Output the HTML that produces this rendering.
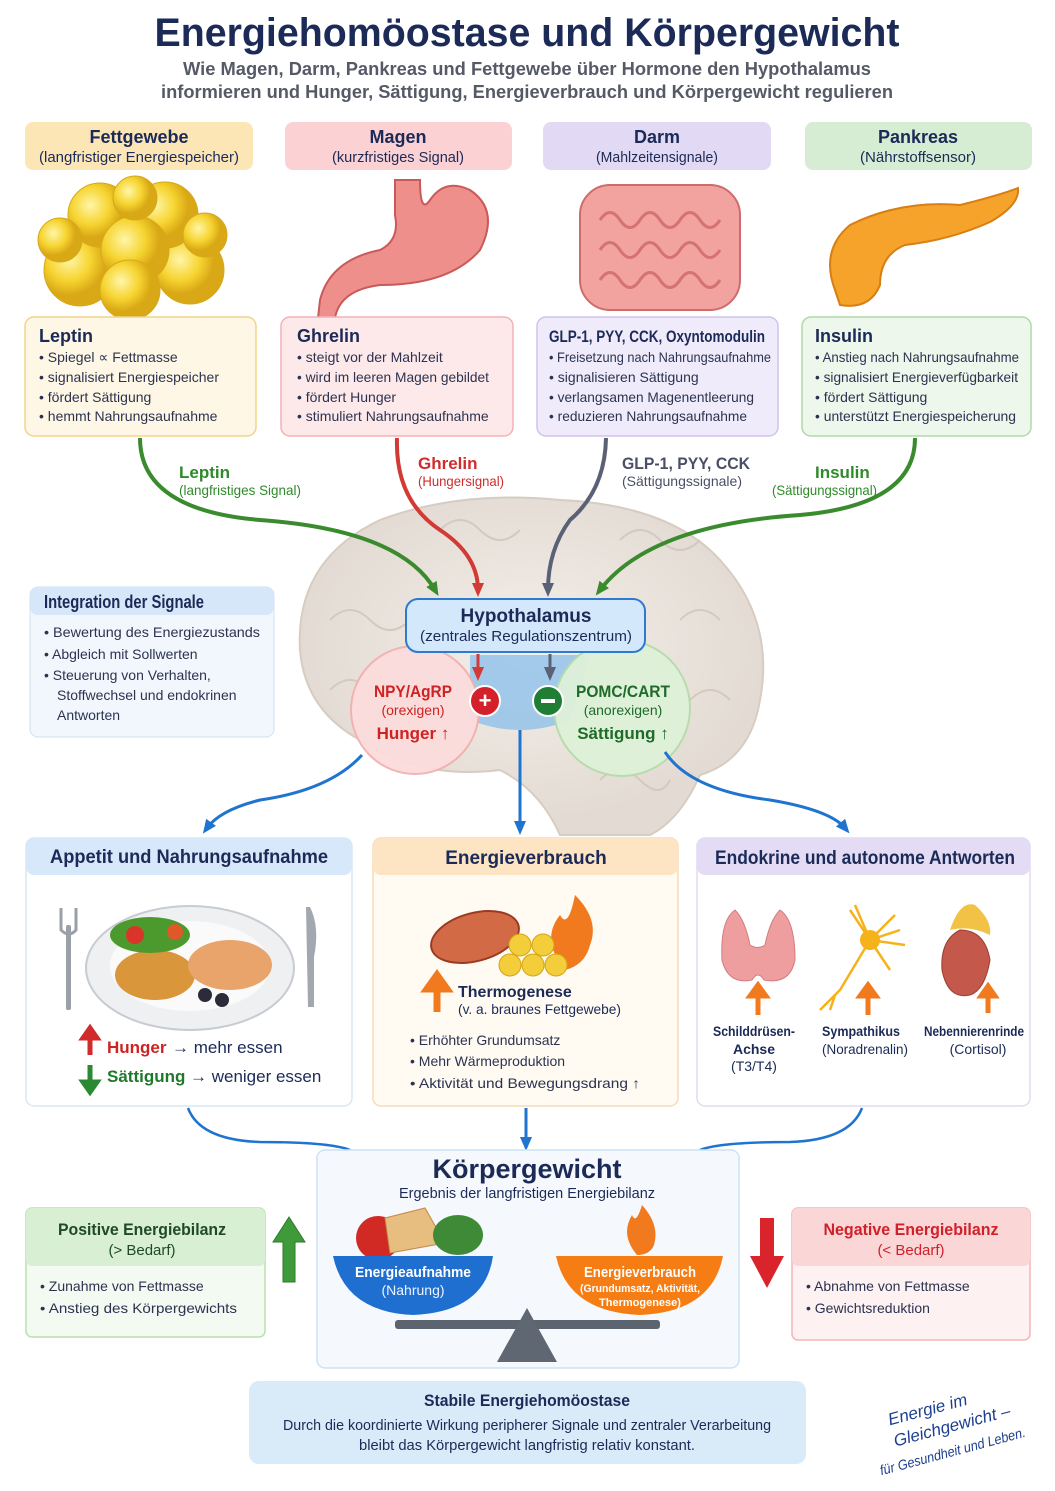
<!DOCTYPE html>
<html><head><meta charset="utf-8"><style>
html,body{margin:0;padding:0;background:#fff;}
svg{display:block;}
text{font-family:"Liberation Sans","DejaVu Sans",sans-serif;}
.b{font-weight:bold;}
.nv{fill:#1b2a57;}
.tx{fill:#2b3350;font-size:14px;}
</style></head><body>
<svg width="1055" height="1491" viewBox="0 0 1055 1491" xmlns="http://www.w3.org/2000/svg">
<defs>
<marker id="ag" markerWidth="14" markerHeight="14" refX="7" refY="7" orient="auto" markerUnits="userSpaceOnUse" viewBox="0 0 14 14"><path d="M0,1 L14,7 L0,13z" fill="#3a8a2e"/></marker>
<marker id="ar" markerWidth="14" markerHeight="14" refX="7" refY="7" orient="auto" markerUnits="userSpaceOnUse" viewBox="0 0 14 14"><path d="M0,1 L14,7 L0,13z" fill="#d23a36"/></marker>
<marker id="agr" markerWidth="14" markerHeight="14" refX="7" refY="7" orient="auto" markerUnits="userSpaceOnUse" viewBox="0 0 14 14"><path d="M0,1 L14,7 L0,13z" fill="#5a6075"/></marker>
<marker id="ab" markerWidth="14" markerHeight="14" refX="7" refY="7" orient="auto" markerUnits="userSpaceOnUse" viewBox="0 0 14 14"><path d="M0,1 L14,7 L0,13z" fill="#1f74d0"/></marker>
<radialGradient id="fat" cx="0.35" cy="0.35"><stop offset="0" stop-color="#fff6a8"/><stop offset="0.6" stop-color="#f6d430"/><stop offset="1" stop-color="#d9a816"/></radialGradient>
<radialGradient id="brain" cx="0.5" cy="0.45"><stop offset="0" stop-color="#f4efea"/><stop offset="1" stop-color="#e3dbd3"/></radialGradient>
</defs>

<text x="527" y="46" text-anchor="middle" class="b nv" font-size="40" textLength="745" lengthAdjust="spacingAndGlyphs">Energiehomöostase und Körpergewicht</text>
<text x="527" y="75" text-anchor="middle" class="b" fill="#555a66" font-size="18" textLength="688" lengthAdjust="spacingAndGlyphs">Wie Magen, Darm, Pankreas und Fettgewebe über Hormone den Hypothalamus</text>
<text x="527" y="98" text-anchor="middle" class="b" fill="#555a66" font-size="18" textLength="732" lengthAdjust="spacingAndGlyphs">informieren und Hunger, Sättigung, Energieverbrauch und Körpergewicht regulieren</text>

<rect x="25" y="122" width="228" height="48" rx="8" fill="#fde6b6"/>
<text x="139" y="143" text-anchor="middle" class="b nv" font-size="18">Fettgewebe</text>
<text x="139" y="162" text-anchor="middle" class="nv" font-size="15" textLength="200" lengthAdjust="spacingAndGlyphs">(langfristiger Energiespeicher)</text>
<rect x="285" y="122" width="227" height="48" rx="8" fill="#fbd1d4"/>
<text x="398" y="143" text-anchor="middle" class="b nv" font-size="18">Magen</text>
<text x="398" y="162" text-anchor="middle" class="nv" font-size="15" textLength="132" lengthAdjust="spacingAndGlyphs">(kurzfristiges Signal)</text>
<rect x="543" y="122" width="228" height="48" rx="8" fill="#e2d9f4"/>
<text x="657" y="143" text-anchor="middle" class="b nv" font-size="18">Darm</text>
<text x="657" y="162" text-anchor="middle" class="nv" font-size="15" textLength="122" lengthAdjust="spacingAndGlyphs">(Mahlzeitensignale)</text>
<rect x="805" y="122" width="227" height="48" rx="8" fill="#d6edd3"/>
<text x="918" y="143" text-anchor="middle" class="b nv" font-size="18">Pankreas</text>
<text x="918" y="162" text-anchor="middle" class="nv" font-size="15" textLength="116" lengthAdjust="spacingAndGlyphs">(Nährstoffsensor)</text>

<g stroke="#d6a91a" stroke-width="1">
<circle cx="80" cy="270" r="36" fill="url(#fat)"/><circle cx="190" cy="270" r="34" fill="url(#fat)"/>
<circle cx="100" cy="215" r="32" fill="url(#fat)"/><circle cx="165" cy="215" r="33" fill="url(#fat)"/>
<circle cx="60" cy="240" r="22" fill="url(#fat)"/><circle cx="205" cy="235" r="22" fill="url(#fat)"/>
<circle cx="135" cy="250" r="34" fill="url(#fat)"/><circle cx="130" cy="290" r="30" fill="url(#fat)"/>
<circle cx="135" cy="198" r="22" fill="url(#fat)"/>
</g>
<path d="M395 180 L395 215 Q400 240 380 250 Q330 260 320 300 L318 318 L335 318 Q340 290 380 285 Q450 285 480 250 Q500 210 470 190 Q445 178 430 200 Q420 215 420 180z" fill="#ef8f8c" stroke="#c95a5a" stroke-width="2"/>
<rect x="580" y="185" width="160" height="125" rx="30" fill="#f2a3a0" stroke="#d06b6b" stroke-width="2"/>
<g fill="none" stroke="#d57272" stroke-width="3">
<path d="M600 220 q10 -15 20 0 t20 0 t20 0 t20 0 t20 0 t20 0"/>
<path d="M600 250 q10 -15 20 0 t20 0 t20 0 t20 0 t20 0 t20 0"/>
<path d="M600 280 q10 -15 20 0 t20 0 t20 0 t20 0 t20 0 t20 0"/>
</g>
<path d="M835 290 Q820 250 850 225 Q900 200 960 205 Q1000 195 1018 188 Q1020 205 990 222 Q950 240 905 245 Q880 255 880 285 Q870 310 840 305z" fill="#f5a32a" stroke="#d87e12" stroke-width="2"/>

<rect x="25" y="317" width="231" height="119" rx="9" fill="#fff7e5" stroke="#f3d38a" stroke-width="1.5"/>
<text x="39" y="342" class="b nv" font-size="18">Leptin</text>
<g class="tx"><text x="39" y="362">• Spiegel ∝ Fettmasse</text><text x="39" y="382">• signalisiert Energiespeicher</text><text x="39" y="402">• fördert Sättigung</text><text x="39" y="421">• hemmt Nahrungsaufnahme</text></g>
<rect x="281" y="317" width="232" height="119" rx="9" fill="#fde9ea" stroke="#f3b1b3" stroke-width="1.5"/>
<text x="297" y="342" class="b nv" font-size="18">Ghrelin</text>
<g class="tx"><text x="297" y="362">• steigt vor der Mahlzeit</text><text x="297" y="382" textLength="192" lengthAdjust="spacingAndGlyphs">• wird im leeren Magen gebildet</text><text x="297" y="402">• fördert Hunger</text><text x="297" y="421">• stimuliert Nahrungsaufnahme</text></g>
<rect x="537" y="317" width="241" height="119" rx="9" fill="#efebfa" stroke="#cfc3ec" stroke-width="1.5"/>
<text x="549" y="342" class="b nv" font-size="17" textLength="216" lengthAdjust="spacingAndGlyphs">GLP-1, PYY, CCK, Oxyntomodulin</text>
<g class="tx"><text x="549" y="362" textLength="222" lengthAdjust="spacingAndGlyphs">• Freisetzung nach Nahrungsaufnahme</text><text x="549" y="382">• signalisieren Sättigung</text><text x="549" y="402" textLength="205" lengthAdjust="spacingAndGlyphs">• verlangsamen Magenentleerung</text><text x="549" y="421" textLength="198" lengthAdjust="spacingAndGlyphs">• reduzieren Nahrungsaufnahme</text></g>
<rect x="802" y="317" width="229" height="119" rx="9" fill="#eef7ec" stroke="#afd9a8" stroke-width="1.5"/>
<text x="815" y="342" class="b nv" font-size="18">Insulin</text>
<g class="tx"><text x="815" y="362" textLength="204" lengthAdjust="spacingAndGlyphs">• Anstieg nach Nahrungsaufnahme</text><text x="815" y="382" textLength="203" lengthAdjust="spacingAndGlyphs">• signalisiert Energieverfügbarkeit</text><text x="815" y="402">• fördert Sättigung</text><text x="815" y="421" textLength="201" lengthAdjust="spacingAndGlyphs">• unterstützt Energiespeicherung</text></g>

<path d="M300 650 Q295 560 380 520 Q460 490 560 500 Q670 505 720 560 Q775 620 760 700 Q750 760 700 775 Q680 820 650 835 L560 835 Q540 790 500 770 Q420 780 360 740 Q305 710 300 650z" fill="url(#brain)" stroke="#d6ccc2" stroke-width="2"/>
<g fill="none" stroke="#d4c9bf" stroke-width="2">
<path d="M330 620 q20 -20 40 0 t40 0"/><path d="M620 540 q20 -20 40 0 t40 0"/><path d="M440 530 q20 -20 40 0 t40 0"/>
<path d="M680 620 q20 -20 40 0"/><path d="M330 690 q20 -20 40 0"/><path d="M690 700 q20 -20 40 0"/><path d="M600 780 q20 -20 40 0 t30 0"/>
</g>
<path d="M470 655 L590 655 L570 720 Q520 740 470 720z" fill="#8fc0ea" opacity="0.8"/>

<path d="M140 438 Q140 510 260 520 Q400 530 435 590" fill="none" stroke="#3a8a2e" stroke-width="4" marker-end="url(#ag)"/>
<path d="M397 438 Q395 500 440 530 Q478 555 478 590" fill="none" stroke="#d23a36" stroke-width="4" marker-end="url(#ar)"/>
<path d="M606 438 Q605 490 570 520 Q548 550 548 590" fill="none" stroke="#5a6075" stroke-width="4" marker-end="url(#agr)"/>
<path d="M915 438 Q915 505 800 515 Q650 525 600 590" fill="none" stroke="#3a8a2e" stroke-width="4" marker-end="url(#ag)"/>
<text x="179" y="478" class="b" fill="#2f8a2a" font-size="17">Leptin</text>
<text x="179" y="495" fill="#2f8a2a" font-size="14" textLength="122" lengthAdjust="spacingAndGlyphs">(langfristiges Signal)</text>
<text x="418" y="469" class="b" fill="#d02c2c" font-size="17">Ghrelin</text>
<text x="418" y="486" fill="#d02c2c" font-size="14" textLength="86" lengthAdjust="spacingAndGlyphs">(Hungersignal)</text>
<text x="622" y="469" class="b" fill="#4a4f66" font-size="17" textLength="128" lengthAdjust="spacingAndGlyphs">GLP-1, PYY, CCK</text>
<text x="622" y="486" fill="#4a4f66" font-size="14" textLength="120" lengthAdjust="spacingAndGlyphs">(Sättigungssignale)</text>
<text x="815" y="478" class="b" fill="#2f8a2a" font-size="17">Insulin</text>
<text x="772" y="495" fill="#2f8a2a" font-size="14" textLength="105" lengthAdjust="spacingAndGlyphs">(Sättigungssignal)</text>

<rect x="30" y="587" width="244" height="150" rx="8" fill="#f2f7fd" stroke="#cfe1f4"/>
<rect x="30" y="587" width="244" height="28" rx="8" fill="#d5e7f8"/>
<text x="44" y="608" class="b nv" font-size="18" textLength="160" lengthAdjust="spacingAndGlyphs">Integration der Signale</text>
<g class="tx"><text x="44" y="637" textLength="216" lengthAdjust="spacingAndGlyphs">• Bewertung des Energiezustands</text><text x="44" y="659">• Abgleich mit Sollwerten</text><text x="44" y="680">• Steuerung von Verhalten,</text><text x="57" y="700">Stoffwechsel und endokrinen</text><text x="57" y="720">Antworten</text></g>

<circle cx="415" cy="710" r="64" fill="#fbdcdc" stroke="#f2b0b0" stroke-width="2" opacity="0.95"/>
<circle cx="622" cy="708" r="68" fill="#dff1d9" stroke="#b5dcaa" stroke-width="2" opacity="0.95"/>
<rect x="406" y="599" width="239" height="53" rx="12" fill="#d4e8fb" stroke="#2e7ad0" stroke-width="2"/>
<text x="526" y="622" text-anchor="middle" class="b nv" font-size="19">Hypothalamus</text>
<text x="526" y="641" text-anchor="middle" class="nv" font-size="15" textLength="212" lengthAdjust="spacingAndGlyphs">(zentrales Regulationszentrum)</text>
<path d="M478 654 L478 674" stroke="#d23a36" stroke-width="3" marker-end="url(#ar)"/>
<path d="M550 654 L550 674" stroke="#5a6075" stroke-width="3" marker-end="url(#agr)"/>
<text x="413" y="697" text-anchor="middle" class="b" fill="#cf2222" font-size="17" textLength="78" lengthAdjust="spacingAndGlyphs">NPY/AgRP</text>
<text x="413" y="715" text-anchor="middle" fill="#cf2222" font-size="14">(orexigen)</text>
<text x="413" y="739" text-anchor="middle" class="b" fill="#cf2222" font-size="17">Hunger ↑</text>
<text x="623" y="697" text-anchor="middle" class="b" fill="#1e6b2a" font-size="17" textLength="94" lengthAdjust="spacingAndGlyphs">POMC/CART</text>
<text x="623" y="715" text-anchor="middle" fill="#1e6b2a" font-size="14">(anorexigen)</text>
<text x="623" y="739" text-anchor="middle" class="b" fill="#1e6b2a" font-size="17">Sättigung ↑</text>
<circle cx="485" cy="701" r="15" fill="#d4202a" stroke="#fff" stroke-width="2"/>
<text x="485" y="708" text-anchor="middle" class="b" fill="#fff" font-size="22">+</text>
<circle cx="548" cy="701" r="15" fill="#1f7e34" stroke="#fff" stroke-width="2"/>
<rect x="541" y="699" width="14" height="4" fill="#fff"/>

<path d="M362 755 Q330 790 260 800 Q220 810 207 828" fill="none" stroke="#1f74d0" stroke-width="3" marker-end="url(#ab)"/>
<path d="M520 730 L520 828" stroke="#1f74d0" stroke-width="3" marker-end="url(#ab)"/>
<path d="M665 752 Q690 790 770 800 Q830 810 845 828" fill="none" stroke="#1f74d0" stroke-width="3" marker-end="url(#ab)"/>

<rect x="26" y="838" width="326" height="268" rx="8" fill="#fff" stroke="#d9e7f6" stroke-width="1.5"/>
<rect x="26" y="838" width="326" height="37" rx="8" fill="#d6e8f9"/>
<text x="189" y="863" text-anchor="middle" class="b nv" font-size="19" textLength="278" lengthAdjust="spacingAndGlyphs">Appetit und Nahrungsaufnahme</text>
<ellipse cx="190" cy="968" rx="104" ry="62" fill="#eef0f2" stroke="#c8ccd2" stroke-width="2"/>
<ellipse cx="190" cy="966" rx="80" ry="45" fill="#fafafa"/>
<ellipse cx="155" cy="975" rx="40" ry="25" fill="#d9963a"/>
<ellipse cx="230" cy="965" rx="42" ry="25" fill="#e8a46a"/>
<ellipse cx="150" cy="935" rx="40" ry="18" fill="#4c9a2e"/>
<circle cx="135" cy="935" r="9" fill="#d9352a"/><circle cx="175" cy="932" r="8" fill="#e0572a"/>
<circle cx="205" cy="995" r="7" fill="#2b2b3a"/><circle cx="222" cy="1000" r="7" fill="#2b2b3a"/>
<rect x="66" y="925" width="5" height="85" rx="2" fill="#9aa0a8"/><path d="M61 908 v22 q8 8 15 0 v-22" fill="none" stroke="#9aa0a8" stroke-width="3"/>
<path d="M310 907 q10 20 4 50 l0 50 h-6 l-2 -100z" fill="#a3a8b0"/>
<path d="M90 1055 v-20 M90 1028 l-7 10 h14z" stroke="#d12a2a" stroke-width="5" fill="#d12a2a"/>
<text x="107" y="1053" class="b" fill="#cf2222" font-size="17">Hunger</text>
<text x="172" y="1053" class="nv" font-size="17">→ mehr essen</text>
<path d="M90 1065 v20 M90 1092 l-7 -10 h14z" stroke="#2a8a32" stroke-width="5" fill="#2a8a32"/>
<text x="107" y="1082" class="b" fill="#1e7a2a" font-size="17">Sättigung</text>
<text x="190" y="1082" class="nv" font-size="17">→ weniger essen</text>

<rect x="373" y="838" width="305" height="268" rx="8" fill="#fffaf2" stroke="#f6dcb6" stroke-width="1.5"/>
<rect x="373" y="838" width="305" height="37" rx="8" fill="#fde4c2"/>
<text x="526" y="864" text-anchor="middle" class="b nv" font-size="19">Energieverbrauch</text>
<ellipse cx="475" cy="937" rx="45" ry="24" fill="#d36a46" stroke="#9b3a22" stroke-width="2" transform="rotate(-15 475 937)"/>
<path d="M565 970 Q540 940 560 915 Q568 930 575 895 Q600 920 590 945 Q585 965 565 970z" fill="#f27a1e"/>
<g fill="#f3cd3a" stroke="#d4a414"><circle cx="520" cy="945" r="11"/><circle cx="543" cy="945" r="11"/><circle cx="510" cy="965" r="11"/><circle cx="533" cy="965" r="11"/><circle cx="556" cy="965" r="11"/></g>
<path d="M437 1012 v-25 M437 975 l-10 14 h20z" stroke="#f27a1e" stroke-width="7" fill="#f27a1e"/>
<text x="458" y="997" class="b nv" font-size="16">Thermogenese</text>
<text x="458" y="1014" class="nv" font-size="14" textLength="163" lengthAdjust="spacingAndGlyphs">(v. a. braunes Fettgewebe)</text>
<g class="tx" font-size="15"><text x="410" y="1045">• Erhöhter Grundumsatz</text><text x="410" y="1066">• Mehr Wärmeproduktion</text><text x="410" y="1088" textLength="230" lengthAdjust="spacingAndGlyphs">• Aktivität und Bewegungsdrang ↑</text></g>

<rect x="697" y="838" width="333" height="268" rx="8" fill="#fff" stroke="#e0dbf2" stroke-width="1.5"/>
<rect x="697" y="838" width="333" height="37" rx="8" fill="#e4dcf5"/>
<text x="865" y="864" text-anchor="middle" class="b nv" font-size="19" textLength="300" lengthAdjust="spacingAndGlyphs">Endokrine und autonome Antworten</text>
<path d="M735 910 Q720 920 722 960 Q728 985 752 980 Q758 970 764 980 Q790 985 795 960 Q795 920 780 910 Q770 920 765 945 Q758 950 750 945 Q745 920 735 910z" fill="#ef9ea0" stroke="#d27b7e"/>
<g stroke="#f5b21a" stroke-width="2.5" fill="none"><path d="M870 940 L850 910 M870 940 L895 915 M870 940 L905 945 M870 940 L890 970 M870 940 L855 905 M870 940 L900 930 M870 940 L840 990 L820 1010 M835 995 L830 1010"/></g>
<circle cx="870" cy="940" r="10" fill="#f5b21a"/>
<path d="M960 930 Q940 940 942 970 Q948 1000 970 995 Q985 990 990 960 Q985 930 960 930z" fill="#c4584a" stroke="#9a3f34"/>
<path d="M950 930 Q960 900 975 905 Q992 920 990 935 Q970 925 950 930z" fill="#f1c245"/>
<g stroke="#f27a1e" stroke-width="5" fill="#f27a1e">
<path d="M758 1015 v-20 M758 985 l-8 11 h16z"/><path d="M868 1015 v-20 M868 985 l-8 11 h16z"/><path d="M988 1013 v-18 M988 986 l-7 10 h14z"/></g>
<text x="754" y="1036" text-anchor="middle" class="b nv" font-size="14" textLength="82" lengthAdjust="spacingAndGlyphs">Schilddrüsen-</text>
<text x="754" y="1054" text-anchor="middle" class="b nv" font-size="14">Achse</text>
<text x="754" y="1071" text-anchor="middle" class="nv" font-size="14">(T3/T4)</text>
<text x="861" y="1036" text-anchor="middle" class="b nv" font-size="14" textLength="78" lengthAdjust="spacingAndGlyphs">Sympathikus</text>
<text x="865" y="1054" text-anchor="middle" class="nv" font-size="14" textLength="86" lengthAdjust="spacingAndGlyphs">(Noradrenalin)</text>
<text x="974" y="1036" text-anchor="middle" class="b nv" font-size="14" textLength="100" lengthAdjust="spacingAndGlyphs">Nebennierenrinde</text>
<text x="978" y="1054" text-anchor="middle" class="nv" font-size="14">(Cortisol)</text>

<path d="M188 1108 Q200 1140 260 1142 Q330 1142 350 1150" fill="none" stroke="#1f74d0" stroke-width="2.5"/>
<path d="M862 1108 Q850 1140 790 1142 Q720 1142 700 1150" fill="none" stroke="#1f74d0" stroke-width="2.5"/>
<path d="M526 1108 L526 1144" stroke="#1f74d0" stroke-width="3" marker-end="url(#ab)"/>

<rect x="317" y="1150" width="422" height="218" rx="8" fill="#f5f9fd" stroke="#cfe1f4" stroke-width="1.5"/>
<text x="527" y="1178" text-anchor="middle" class="b nv" font-size="27">Körpergewicht</text>
<text x="527" y="1198" text-anchor="middle" class="nv" font-size="15" textLength="256" lengthAdjust="spacingAndGlyphs">Ergebnis der langfristigen Energiebilanz</text>
<circle cx="378" cy="1238" r="22" fill="#d12a24"/>
<path d="M385 1218 l40 -10 l20 35 l-55 10z" fill="#e8bd80" stroke="#c28a48"/>
<ellipse cx="458" cy="1235" rx="25" ry="20" fill="#3f8a36"/>
<path d="M333 1256 L493 1256 Q485 1312 413 1315 Q345 1312 333 1256z" fill="#1f6fd0"/>
<text x="413" y="1277" text-anchor="middle" class="b" fill="#fff" font-size="15" textLength="116" lengthAdjust="spacingAndGlyphs">Energieaufnahme</text>
<text x="413" y="1295" text-anchor="middle" fill="#eef4ff" font-size="14">(Nahrung)</text>
<path d="M637 1255 Q620 1235 632 1215 Q636 1225 642 1205 Q660 1225 654 1245 Q650 1255 637 1255z" fill="#f27a1e"/>
<path d="M556 1256 L723 1256 Q712 1312 640 1315 Q568 1312 556 1256z" fill="#f57d14"/>
<text x="640" y="1277" text-anchor="middle" class="b" fill="#fff" font-size="15" textLength="112" lengthAdjust="spacingAndGlyphs">Energieverbrauch</text>
<text x="640" y="1292" text-anchor="middle" fill="#fff" font-size="11" class="b" textLength="120" lengthAdjust="spacingAndGlyphs">(Grundumsatz, Aktivität,</text>
<text x="640" y="1306" text-anchor="middle" fill="#fff" font-size="11" class="b">Thermogenese)</text>
<rect x="395" y="1320" width="265" height="9" rx="3" fill="#5c6470"/>
<path d="M527 1308 L497 1362 L557 1362z" fill="#5f6772"/>

<rect x="26" y="1208" width="239" height="129" rx="6" fill="#f3faf1" stroke="#b9dfb1" stroke-width="1.5"/>
<rect x="26" y="1208" width="239" height="58" rx="6" fill="#d8efd3"/>
<text x="142" y="1235" text-anchor="middle" class="b" fill="#1f4a24" font-size="17" textLength="168" lengthAdjust="spacingAndGlyphs">Positive Energiebilanz</text>
<text x="142" y="1255" text-anchor="middle" fill="#1f4a24" font-size="15">(&gt; Bedarf)</text>
<g class="tx" font-size="15"><text x="40" y="1291">• Zunahme von Fettmasse</text><text x="40" y="1313" textLength="197" lengthAdjust="spacingAndGlyphs">• Anstieg des Körpergewichts</text></g>
<path d="M283 1282 v-40 h-10 l16 -25 l16 25 h-10 v40z" fill="#3f9a3a" stroke="#2c7a2a"/>
<rect x="792" y="1208" width="238" height="132" rx="6" fill="#fdf1f1" stroke="#f3b5b5" stroke-width="1.5"/>
<rect x="792" y="1208" width="238" height="58" rx="6" fill="#fad6d6"/>
<text x="911" y="1235" text-anchor="middle" class="b" fill="#d0202a" font-size="17" textLength="175" lengthAdjust="spacingAndGlyphs">Negative Energiebilanz</text>
<text x="911" y="1255" text-anchor="middle" fill="#d0202a" font-size="15">(&lt; Bedarf)</text>
<g class="tx" font-size="15"><text x="806" y="1291">• Abnahme von Fettmasse</text><text x="806" y="1313">• Gewichtsreduktion</text></g>
<path d="M760 1218 v38 h-10 l17 32 l17 -32 h-10 v-38z" fill="#d8242a"/>

<rect x="249" y="1381" width="557" height="83" rx="10" fill="#d9eaf8"/>
<text x="527" y="1406" text-anchor="middle" class="b nv" font-size="17" textLength="206" lengthAdjust="spacingAndGlyphs">Stabile Energiehomöostase</text>
<text x="527" y="1430" text-anchor="middle" class="nv" font-size="15" textLength="488" lengthAdjust="spacingAndGlyphs">Durch die koordinierte Wirkung peripherer Signale und zentraler Verarbeitung</text>
<text x="527" y="1450" text-anchor="middle" class="nv" font-size="15" textLength="336" lengthAdjust="spacingAndGlyphs">bleibt das Körpergewicht langfristig relativ konstant.</text>

<g transform="rotate(-15 950 1430)" fill="#1d3f8f" font-style="italic">
<text x="893" y="1410" font-size="17" font-family="Liberation Serif, serif">Energie im</text>
<text x="893" y="1432" font-size="17" font-family="Liberation Serif, serif">Gleichgewicht –</text>
<text x="872" y="1456" font-size="14" font-family="Liberation Serif, serif" textLength="150" lengthAdjust="spacingAndGlyphs">für Gesundheit und Leben.</text>
</g>
</svg>
</body></html>
